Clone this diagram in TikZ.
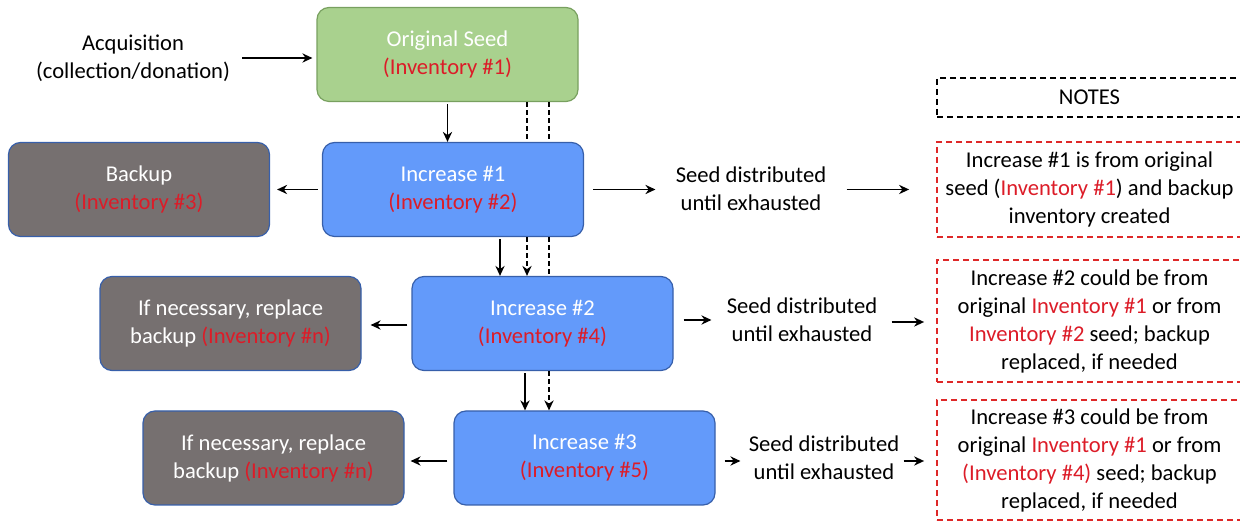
\documentclass[tikz,border=0pt]{standalone}
\usepackage{fontspec}
\setmainfont{Carlito}
\usetikzlibrary{arrows.meta,positioning}

\definecolor{seedgreen}{RGB}{169,209,142}
\definecolor{seedline}{RGB}{120,160,95}
\definecolor{incblue}{RGB}{99,154,250}
\definecolor{incline}{RGB}{55,95,170}
\definecolor{backgray}{RGB}{118,112,112}
\definecolor{invred}{RGB}{220,28,40}
\definecolor{notered}{RGB}{222,40,40}

\newcommand{\inv}[1]{\textcolor{invred}{#1}}
\newcommand{\dfont}{\fontsize{11.3pt}{14pt}\selectfont}

\tikzset{
  base/.style={rounded corners=6pt, minimum width=130.5pt, minimum height=47pt,
    align=center, text=white, line width=0.6pt, font=\dfont},
  seedbox/.style={base, fill=seedgreen, draw=seedline},
  incbox/.style={base, fill=incblue, draw=incline},
  backbox/.style={base, fill=backgray, draw=incline},
  notebox/.style={draw=notered, dash pattern=on 3pt off 2pt, line width=0.9pt,
    align=center, minimum width=152.5pt, font=\dfont},
  plain/.style={align=center, font=\dfont, inner sep=0pt},
  arr/.style={-{Stealth[length=5pt,width=4.6pt]}, line width=0.95pt},
  dline/.style={line width=0.9pt, dash pattern=on 2.5pt off 1.5pt},
}

\begin{document}
\begin{tikzpicture}[x=0.5pt,y=-0.5pt]
	\useasboundingbox (0,0) rectangle (1240,522);

	% main chain
	\node[seedbox] (seed) at (447.5,54.5) {Original Seed\\ \inv{(Inventory \#1)}};
	\node[incbox] (inc1) at (453,189.5) {Increase \#1\\ \inv{(Inventory \#2)}};
	\node[incbox] (inc2) at (542.5,323.5) {Increase \#2\\ \inv{(Inventory \#4)}};
	\node[incbox] (inc3) at (584.5,458) {Increase \#3\\ \inv{(Inventory \#5)}};

	% backups
	\node[backbox] (bk1) at (139,189.5) {Backup\\ \inv{(Inventory \#3)}};
	\node[backbox] (bk2) at (230.5,323.5) {If necessary, replace\\ backup \inv{(Inventory \#n)}};
	\node[backbox] (bk3) at (273.5,458) {If necessary, replace\\ backup \inv{(Inventory \#n)}};

	% texts
	\node[plain] (acq) at (133,58) {Acquisition\\ (collection/donation)};
	\node[plain] (dist1) at (751,189) {Seed distributed\\ until exhausted};
	\node[plain] (dist2) at (802,320) {Seed distributed\\ until exhausted};
	\node[plain] (dist3) at (824,458) {Seed distributed\\ until exhausted};

	% notes
	\node[notebox, draw=black, minimum height=19.5pt] (notes) at (1089.5,97.5) {NOTES};
	\node[notebox, minimum height=47.5pt] (note1) at (1089.5,189.5)
		{Increase \#1 is from original\\ seed (\inv{Inventory \#1}) and backup\\ inventory created};
	\node[notebox, minimum height=61pt] (note2) at (1089.5,321)
		{Increase \#2 could be from\\ original \inv{Inventory \#1} or from\\ \inv{Inventory \#2} seed; backup\\ replaced, if needed};
	\node[notebox, minimum height=60pt] (note3) at (1089.5,460)
		{Increase \#3 could be from\\ original \inv{Inventory \#1} or from\\ \inv{(Inventory \#4)} seed; backup\\ replaced, if needed};

	% columns for the vertical links
	\coordinate (cA) at (500,0);
	\coordinate (cB) at (525,0);
	\coordinate (dA) at (527,0);
	\coordinate (dB) at (549,0);

	% horizontal arrows
	\draw[arr, shorten <=6pt, shorten >=2pt] (acq) -- (seed.west |- acq);
	\draw[arr, shorten <=2pt, shorten >=3.5pt] (inc1.west) -- (bk1.east);
	\draw[arr, shorten <=2pt, shorten >=4.5pt] (inc2.west |- 0,325) -- (bk2.east |- 0,325);
	\draw[arr, shorten <=3pt, shorten >=3pt] (inc3.west |- 0,461) -- (bk3.east |- 0,461);

	\draw[arr, shorten <=4.5pt, shorten >=10pt] (inc1.east) -- (dist1.west |- inc1.east);
	\draw[arr, shorten <=10pt, shorten >=13.5pt] (dist1.east |- inc1.east) -- (note1.west);
	\draw[arr, shorten <=5pt, shorten >=7.5pt] (inc2.east |- dist2) -- (dist2.west);
	\draw[arr, shorten <=7pt, shorten >=6pt] (dist2.east |- 0,322) -- (note2.west |- 0,322);
	\draw[arr, shorten <=4.5pt, shorten >=4pt] (inc3.east |- 0,461) -- (dist3.west |- 0,461);
	\draw[arr, shorten <=2pt, shorten >=6pt] (dist3.east |- 0,461) -- (note3.west |- 0,461);

	% solid vertical arrows
	\draw[arr, shorten <=1pt] (seed.south) -- (inc1.north -| seed.south);
	\draw[arr, shorten <=1pt] (inc1.south -| cA) -- (inc2.north -| cA);
	\draw[arr, shorten <=1pt] (inc2.south -| cB) -- (inc3.north -| cB);

	% dashed vertical links
	\draw[dline] (seed.south -| dA) -- (inc1.north -| dA);
	\draw[dline] (seed.south -| dB) -- (inc1.north -| dB);
	\draw[dline, arr, dash pattern=on 2.5pt off 1.5pt] (inc1.south -| dA) -- (inc2.north -| dA);
	\draw[dline] (inc1.south -| dB) -- (inc2.north -| dB);
	\draw[dline, arr, dash pattern=on 2.5pt off 1.5pt] (inc2.south -| dB) -- (inc3.north -| dB);
\end{tikzpicture}
\end{document}
